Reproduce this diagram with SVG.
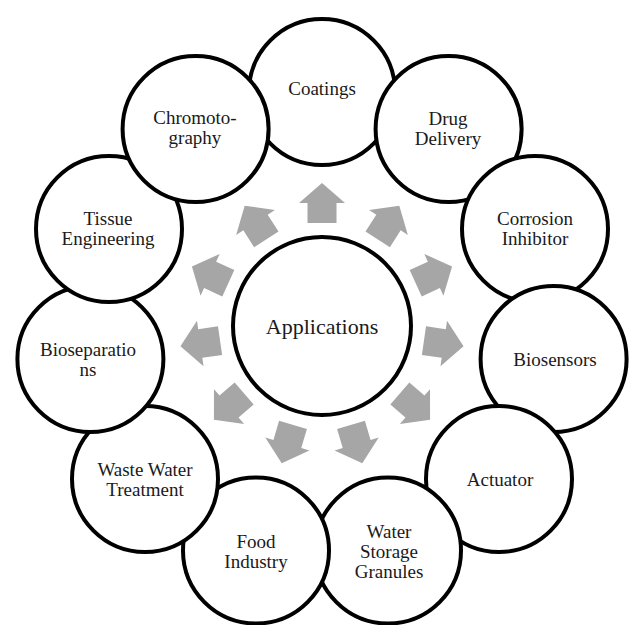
<svg xmlns="http://www.w3.org/2000/svg" width="629" height="625" viewBox="0 0 629 625">
<style>
.node{fill:#ffffff;stroke:#000000;stroke-width:4}
.lbl{font-family:"Liberation Serif","Times New Roman",serif;font-size:19px;fill:#1a1a1a;text-anchor:middle}
.center{font-size:22px}
.arr{fill:#a6a6a6}
</style>
<defs>
<polygon id="arrow" points="-14.5,-103 14.5,-103 14.5,-123 23,-123 0,-143 -23,-123 -14.5,-123"/>
</defs>
<rect width="629" height="625" fill="#ffffff"/>
<g id="connectors" class="arr">
<use href="#arrow" transform="translate(322,326) rotate(0)"/>
<use href="#arrow" transform="translate(322,326) rotate(32.73)"/>
<use href="#arrow" transform="translate(322,326) rotate(65.45)"/>
<use href="#arrow" transform="translate(322,326) rotate(98.18)"/>
<use href="#arrow" transform="translate(322,326) rotate(130.91)"/>
<use href="#arrow" transform="translate(322,326) rotate(163.64)"/>
<use href="#arrow" transform="translate(322,326) rotate(196.36)"/>
<use href="#arrow" transform="translate(322,326) rotate(229.09)"/>
<use href="#arrow" transform="translate(322,326) rotate(261.82)"/>
<use href="#arrow" transform="translate(322,326) rotate(294.55)"/>
<use href="#arrow" transform="translate(322,326) rotate(327.27)"/>
</g>
<g id="applications">
<circle class="node" cx="322" cy="326" r="89"/>
<text class="lbl center" x="322" y="334">Applications</text>
</g>
<g id="coatings">
<circle class="node" cx="322" cy="92" r="73"/>
<text class="lbl" x="322" y="95">Coatings</text>
</g>
<g id="drug-delivery">
<circle class="node" cx="448.6" cy="129" r="73"/>
<text class="lbl" x="448" y="125">Drug</text>
<text class="lbl" x="448" y="145">Delivery</text>
</g>
<g id="corrosion-inhibitor">
<circle class="node" cx="535" cy="229" r="73"/>
<text class="lbl" x="535" y="225">Corrosion</text>
<text class="lbl" x="535" y="245">Inhibitor</text>
</g>
<g id="biosensors">
<circle class="node" cx="553.6" cy="359" r="73"/>
<text class="lbl" x="555" y="366">Biosensors</text>
</g>
<g id="actuator">
<circle class="node" cx="499" cy="479" r="73"/>
<text class="lbl" x="500" y="486">Actuator</text>
</g>
<g id="water-storage-granules">
<circle class="node" cx="388" cy="550.5" r="73"/>
<text class="lbl" x="389" y="538">Water</text>
<text class="lbl" x="389" y="558">Storage</text>
<text class="lbl" x="389" y="578">Granules</text>
</g>
<g id="food-industry">
<circle class="node" cx="256" cy="550.5" r="73"/>
<text class="lbl" x="256" y="548">Food</text>
<text class="lbl" x="256" y="568">Industry</text>
</g>
<g id="waste-water-treatment">
<circle class="node" cx="145" cy="479" r="73"/>
<text class="lbl" x="145" y="476">Waste Water</text>
<text class="lbl" x="145" y="496">Treatment</text>
</g>
<g id="bioseparations">
<circle class="node" cx="90.4" cy="359" r="73"/>
<text class="lbl" x="88" y="356">Bioseparatio</text>
<text class="lbl" x="88" y="376">ns</text>
</g>
<g id="tissue-engineering">
<circle class="node" cx="109" cy="229" r="73"/>
<text class="lbl" x="108" y="225">Tissue</text>
<text class="lbl" x="108" y="245">Engineering</text>
</g>
<g id="chromatography">
<circle class="node" cx="195.6" cy="129" r="73"/>
<text class="lbl" x="195" y="124">Chromoto-</text>
<text class="lbl" x="195" y="144">graphy</text>
</g>
</svg>
